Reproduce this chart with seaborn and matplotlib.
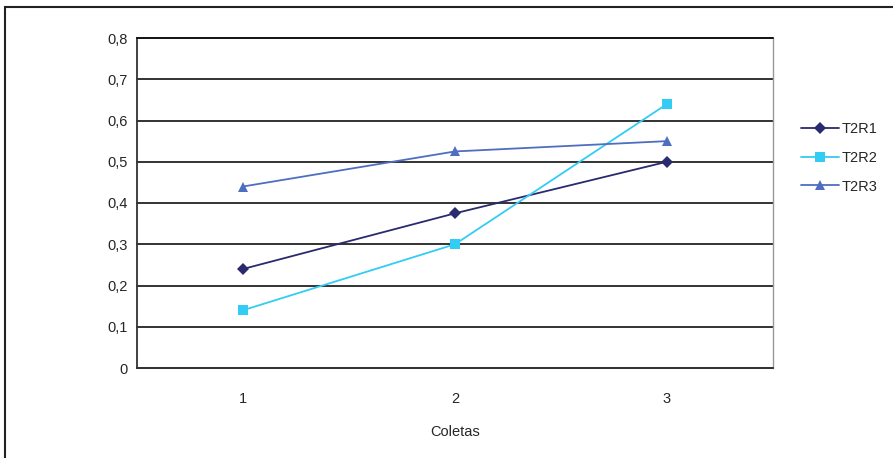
import matplotlib
matplotlib.use("Agg")
import matplotlib.pyplot as plt
import seaborn as sns
import pandas as pd
from matplotlib.lines import Line2D
from matplotlib.patches import Rectangle

coletas = [1, 2, 3]
t2r1 = [0.24, 0.375, 0.50]
t2r2 = [0.14, 0.30, 0.64]
t2r3 = [0.44, 0.525, 0.55]
series_names = ["T2R1", "T2R2", "T2R3"]
y_ticks = [0, 0.1, 0.2, 0.3, 0.4, 0.5, 0.6, 0.7, 0.8]
y_labels = ["0", "0,1", "0,2", "0,3", "0,4", "0,5", "0,6", "0,7", "0,8"]

df = pd.DataFrame({
    "Coletas": coletas * 3,
    "valor": t2r1 + t2r2 + t2r3,
    "serie": [s for s in series_names for _ in coletas],
})

sns.set_style("white")
plt.rcParams["font.family"] = ["Liberation Sans", "DejaVu Sans"]

fig = plt.figure(figsize=(8.93, 4.58), dpi=100)
ax = fig.add_axes([137/893, 1-368/458, (773-137)/893, (368-38)/458])

colors = {"T2R1": "#2A2A6E", "T2R2": "#33CCF5", "T2R3": "#4E6EC2"}
markers = {"T2R1": "D", "T2R2": "s", "T2R3": "^"}
msizes = {"T2R1": 6, "T2R2": 7, "T2R3": 7.5}

for s in series_names:
    sub = df[df.serie == s]
    sns.lineplot(data=sub, x="Coletas", y="valor", ax=ax, color=colors[s],
                 marker=markers[s], markersize=msizes[s], markeredgewidth=0,
                 linewidth=1.3, label=s, legend=False)

ax.set_xlim(0.5, 3.5)
ax.set_ylim(0, 0.8)
ax.set_yticks(y_ticks)
ax.set_yticklabels(y_labels, fontsize=10.5)
ax.set_xticks([0.5, 1.5, 2.5, 3.5])
ax.set_xticklabels([])
ax.set_xticks(coletas, minor=True)
ax.set_xticklabels([str(c) for c in coletas], minor=True, fontsize=10.5)
ax.tick_params(axis="x", which="major", length=5, width=1, color="#333333", direction="out")
ax.tick_params(axis="x", which="minor", length=0, pad=17)
ax.tick_params(axis="y", length=5, width=1, color="#333333", direction="out", pad=2)
ax.set_axisbelow(True)
ax.yaxis.grid(True, color="#111111", linewidth=1.2, clip_on=False)
ax.set_xlabel("Coletas", fontsize=10.5, labelpad=14)
ax.set_ylabel("")

for side in ["left", "bottom"]:
    ax.spines[side].set_color("#333333")
    ax.spines[side].set_linewidth(1.3)
ax.spines["top"].set_color("#111111")
ax.spines["top"].set_linewidth(1.2)
ax.spines["right"].set_color("#999999")
ax.spines["right"].set_linewidth(1)

handles = [Line2D([0], [0], color=colors[s], marker=markers[s], markersize=msizes[s],
                  markeredgewidth=0, linewidth=1.3) for s in series_names]
fig.legend(handles, series_names, loc="center left", bbox_to_anchor=(788/893, 1-158/458),
           frameon=False, fontsize=10.5, handlelength=2.6, labelspacing=1.0, handletextpad=0.2)

fig.patches.append(Rectangle((5/893, -0.1), 1.0, 1 - 7/458 + 0.1, transform=fig.transFigure,
                             fill=False, edgecolor="#222222", linewidth=1.5))

fig.savefig("out.png", dpi=100)
